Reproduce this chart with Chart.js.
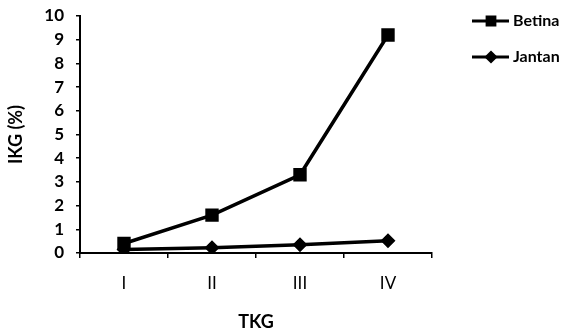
<!DOCTYPE html>
<html lang="en">
<head>
    <meta charset="UTF-8">
    <title>IKG vs TKG</title>
    <script src="https://cdn.jsdelivr.net/npm/chart.js"></script>
    <style>
        body { margin: 0; background: #fff; }
        canvas { display: block; }
    </style>
</head>
<body>
    <canvas id="ikgChart" width="571" height="334"></canvas>

    <script>
        // Data
        const tkgLabels = ['I', 'II', 'III', 'IV'];
        const betinaValues = [0.4, 1.6, 3.3, 9.2];
        const jantanValues = [0.15, 0.22, 0.35, 0.52];
        const seriesNames = ['Betina', 'Jantan'];

        const fontFamily = 'Lato, "Open Sans", sans-serif';

        // Legend on the right: line with marker, then series name
        const sideLegend = {
            id: 'sideLegend',
            afterDraw(chart) {
                const ctx = chart.ctx;
                const rows = [21, 57];
                chart.data.datasets.forEach((ds, i) => {
                    const y = rows[i];
                    ctx.save();
                    ctx.strokeStyle = '#000';
                    ctx.fillStyle = '#000';
                    ctx.lineWidth = 3;
                    ctx.beginPath();
                    ctx.moveTo(472, y);
                    ctx.lineTo(509, y);
                    ctx.stroke();
                    Chart.helpers.drawPoint(ctx, {
                        pointStyle: ds.pointStyle,
                        radius: ds.pointStyle === 'rect' ? 5.5 : 4.5,
                        borderWidth: 1
                    }, 491, y);
                    ctx.font = 'bold 16px ' + fontFamily;
                    ctx.textBaseline = 'middle';
                    ctx.textAlign = 'left';
                    ctx.fillText(ds.label, 513, y);
                    ctx.restore();
                });
            }
        };

        new Chart(document.getElementById('ikgChart'), {
            type: 'line',
            data: {
                labels: tkgLabels,
                datasets: [
                    {
                        label: seriesNames[0],
                        data: betinaValues,
                        borderColor: '#000',
                        backgroundColor: '#000',
                        borderWidth: 3.5,
                        pointStyle: 'rect',
                        pointRadius: 7,
                        tension: 0
                    },
                    {
                        label: seriesNames[1],
                        data: jantanValues,
                        borderColor: '#000',
                        backgroundColor: '#000',
                        borderWidth: 3.5,
                        pointStyle: 'rectRot',
                        pointRadius: 5,
                        tension: 0
                    }
                ]
            },
            options: {
                responsive: false,
                animation: false,
                layout: { padding: { top: 16, right: 139, left: 0, bottom: 0 } },
                plugins: {
                    legend: { display: false },
                    tooltip: { enabled: false }
                },
                scales: {
                    x: {
                        offset: true,
                        border: { color: '#000', width: 2 },
                        grid: { offset: true, drawOnChartArea: false, drawTicks: true, tickLength: 5, color: '#000', lineWidth: 1.5 },
                        ticks: { color: '#000', padding: 15, font: { family: fontFamily, size: 17 } },
                        title: {
                            display: true, text: 'TKG', color: '#000',
                            font: { family: fontFamily, size: 18, weight: 'bold' },
                            padding: { top: 0, bottom: 1 }
                        },
                        afterFit(scale) { scale.height = 81; }
                    },
                    y: {
                        min: 0, max: 10,
                        border: { color: '#000', width: 2 },
                        grid: { drawOnChartArea: false, drawTicks: true, tickLength: 4, color: '#000', lineWidth: 1.5 },
                        ticks: { stepSize: 1, autoSkip: false, color: '#000', padding: 12, font: { family: fontFamily, size: 17, weight: 'bold' } },
                        title: {
                            display: true, text: 'IKG (%)', color: '#000',
                            font: { family: fontFamily, size: 18, weight: 'bold' },
                            padding: { top: 5, bottom: 0 }
                        },
                        afterFit(scale) {
                            scale.width = 80;
                            scale.paddingTop = 0;
                            scale.paddingBottom = 0;
                        }
                    }
                }
            },
            plugins: [sideLegend]
        });
    </script>
</body>
</html>
